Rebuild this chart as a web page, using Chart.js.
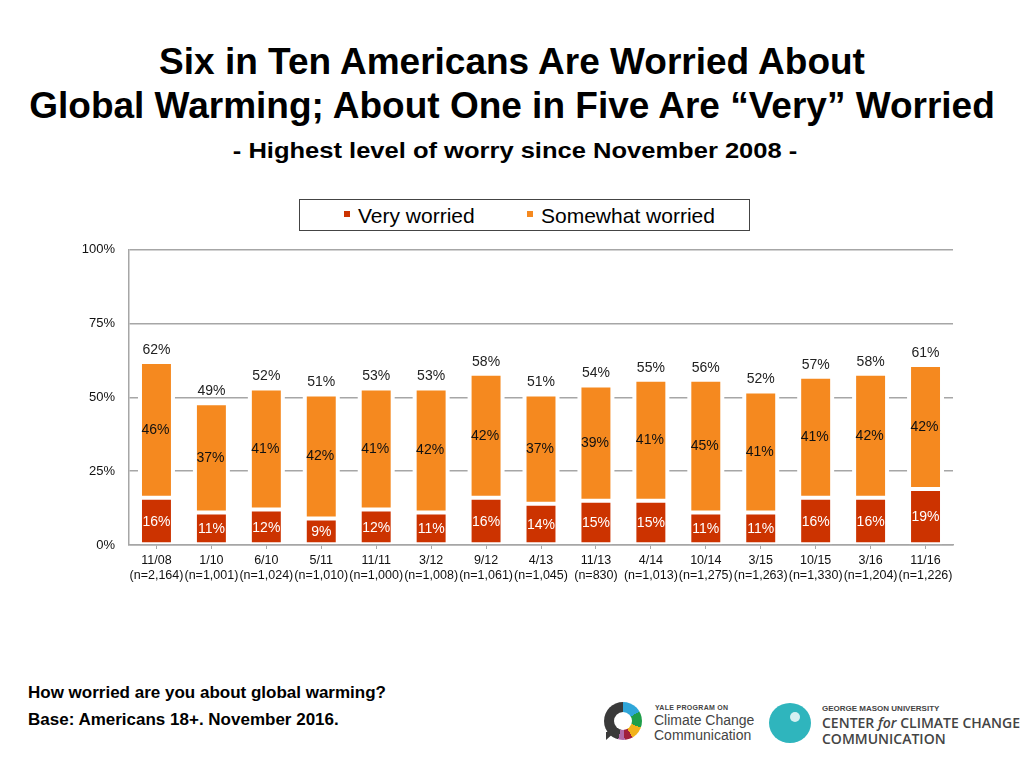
<!DOCTYPE html>
<html>
<head>
<meta charset="utf-8">
<script src="https://cdn.jsdelivr.net/npm/chart.js@4/dist/chart.umd.min.js"></script>
<style>
  html, body { margin:0; padding:0; background:#fff; }
  body { width:1024px; height:768px; position:relative; overflow:hidden; font-family:"Liberation Sans", Arial, sans-serif; color:#000; }
  .title { position:absolute; left:0; width:1024px; text-align:center; font-weight:bold; font-size:37px; line-height:44px; top:40px; }
  .subtitle { position:absolute; left:4px; width:1024px; text-align:center; font-weight:bold; font-size:22px; top:138px; transform:scaleX(1.16); transform-origin:518px 0; }
  .legend { position:absolute; left:299px; top:199px; width:451px; height:32px; border:1px solid #444; box-sizing:border-box; font-size:21px; }
  .legend .item { position:absolute; top:4px; white-space:nowrap; }
  .legend .sw { display:inline-block; width:6px; height:6px; margin-right:8px; vertical-align:top; margin-top:7px; }
  #wrap { position:absolute; left:0; top:228px; width:1000px; height:377px; }
  .foot { position:absolute; left:28px; font-weight:bold; font-size:17px; }
  .logo-text { position:absolute; color:#444; white-space:nowrap; }
</style>
</head>
<body>
<div class="title">Six in Ten Americans Are Worried About<br>Global Warming; About One in Five Are “Very” Worried</div>
<div class="subtitle">- Highest level of worry since November 2008 -</div>
<div class="legend">
  <span class="item" style="left:44px"><span class="sw" style="background:#CC3300"></span>Very worried</span>
  <span class="item" style="left:227px"><span class="sw" style="background:#F5891F"></span>Somewhat worried</span>
</div>
<div id="wrap"><canvas id="c"></canvas></div>
<div class="foot" style="top:683px">How worried are you about global warming?</div>
<div class="foot" style="top:710px">Base: Americans 18+. November 2016.</div>

<!-- logos -->
<div style="position:absolute;left:604px;top:702px;width:38px;height:38px;border-radius:50%;background:conic-gradient(#2fa6d9 0 60deg,#1f9e4a 60deg 110deg,#f2b21b 110deg 150deg,#a01f3b 150deg 175deg,#b06aa8 175deg 195deg,#3a3a3a 195deg 360deg);"></div>
<div style="position:absolute;left:614px;top:712px;width:18px;height:18px;border-radius:50%;background:#fff;"></div>
<div style="position:absolute;left:606px;top:732px;width:0;height:0;border-left:9px solid #3a3a3a;border-bottom:8px solid transparent;"></div>
<div class="logo-text" style="left:655px;top:704px;font-size:7px;font-weight:bold;letter-spacing:0.3px;">YALE PROGRAM ON</div>
<div class="logo-text" style="left:654px;top:713px;font-size:14px;line-height:15px;">Climate Change<br>Communication</div>
<div style="position:absolute;left:769px;top:703px;width:42px;height:40px;border-radius:50%;background:#2fb5bd;"></div>
<div style="position:absolute;left:790px;top:712px;width:10px;height:10px;border-radius:50%;background:#fff;opacity:0.8"></div>
<div class="logo-text" style="left:822px;top:704px;font-size:8px;font-weight:bold;">GEORGE MASON UNIVERSITY</div>
<div class="logo-text" style="left:822px;top:715px;font-size:14px;line-height:16px;font-family:'Open Sans',sans-serif;font-weight:600;">CENTER <i>for</i> CLIMATE CHANGE<br>COMMUNICATION</div>

<script>
const dates = ["11/08","1/10","6/10","5/11","11/11","3/12","9/12","4/13","11/13","4/14","10/14","3/15","10/15","3/16","11/16"];
const sampleSizes = ["(n=2,164)","(n=1,001)","(n=1,024)","(n=1,010)","(n=1,000)","(n=1,008)","(n=1,061)","(n=1,045)","(n=830)","(n=1,013)","(n=1,275)","(n=1,263)","(n=1,330)","(n=1,204)","(n=1,226)"];
const veryWorried = [16,11,12,9,12,11,16,14,15,15,11,11,16,16,19];
const somewhatWorried = [46,37,41,42,41,42,42,37,39,41,45,41,41,42,42];
const totals = [62,49,52,51,53,53,58,51,54,55,56,52,57,58,61];
const yTicks = [0,25,50,75,100];

const FONT = "'Liberation Sans', Arial, sans-serif";
const labels = dates.map((d,i)=>[d, sampleSizes[i]]);

const haloPlugin = {
  id:'halo',
  beforeDatasetsDraw(chart){
    const ctx = chart.ctx;
    const m0 = chart.getDatasetMeta(0), m1 = chart.getDatasetMeta(1);
    ctx.save();
    ctx.fillStyle = '#fff';
    m0.data.forEach((el,i)=>{
      const top = m1.data[i].y;
      const base = el.base;
      ctx.fillRect(el.x - el.width/2 - 2, top - 2, el.width + 4, base - top + 1);
    });
    ctx.restore();
  }
};

const labelPlugin = {
  id:'vals',
  afterDatasetsDraw(chart){
    const ctx = chart.ctx;
    const m0 = chart.getDatasetMeta(0), m1 = chart.getDatasetMeta(1);
    ctx.save();
    ctx.font = "14px " + FONT;
    ctx.textAlign = 'center';
    ctx.textBaseline = 'middle';
    m0.data.forEach((el,i)=>{
      ctx.fillStyle = '#fff';
      ctx.fillText(veryWorried[i] + '%', el.x, (el.y + el.base)/2 + 1);
      const e1 = m1.data[i];
      ctx.fillStyle = '#111';
      ctx.fillText(somewhatWorried[i] + '%', e1.x - 1, (e1.y + e1.base)/2);
      ctx.fillStyle = '#222';
      ctx.fillText(totals[i] + '%', e1.x, e1.y - 12);
    });
    ctx.restore();
  }
};

new Chart(document.getElementById('c'), {
  type:'bar',
  data:{
    labels: labels,
    datasets:[
      { label:'Very worried', data: veryWorried, backgroundColor:'#CC3300', borderColor:'#fff', borderWidth:2, borderSkipped:false },
      { label:'Somewhat worried', data: somewhatWorried, backgroundColor:'#F5891F', borderColor:'#fff', borderWidth:2, borderSkipped:false }
    ]
  },
  options:{
    responsive:true,
    maintainAspectRatio:false,
    animation:false,
    layout:{ padding:{ top:7, right:47, left:0, bottom:0 } },
    plugins:{ legend:{ display:false }, tooltip:{ enabled:false } },
    datasets:{ bar:{ barPercentage:0.6, categoryPercentage:1.0 } },
    scales:{
      x:{
        stacked:true,
        grid:{ drawOnChartArea:false, drawTicks:true, tickLength:4, offset:false, color:'#a6a6a6' },
        border:{ color:'#a6a6a6', width:1.5 },
        ticks:{ color:'#111', font:{ family:FONT, size:12.5 }, padding:4, maxRotation:0, autoSkip:false },
        afterFit(s){ s.height = 60; }
      },
      y:{
        stacked:true,
        min:0, max:100,
        afterBuildTicks(s){ s.ticks = yTicks.map(v=>({value:v})); },
        grid:{ color:'#a6a6a6', lineWidth:1.5, drawTicks:false },
        border:{ color:'#a6a6a6', width:1.5 },
        ticks:{ color:'#111', font:{ family:FONT, size:13 }, padding:14, callback:v=>v+'%' },
        afterFit(s){ s.width = 129; }
      }
    }
  },
  plugins:[haloPlugin, labelPlugin]
});
</script>
</body>
</html>
